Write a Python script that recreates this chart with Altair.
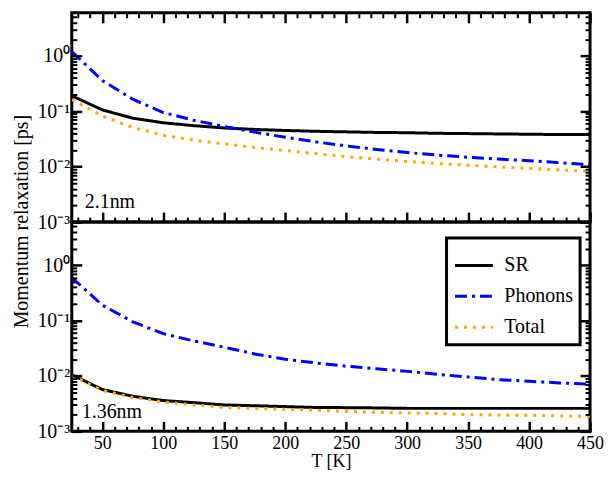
import altair as alt
import pandas as pd

# ---- data ----
T = [25, 50, 75, 100, 125, 150, 175, 200, 225, 250, 275, 300, 325, 350, 375, 400, 425, 450]

sr_21 = [0.19, 0.106, 0.075, 0.062, 0.055, 0.050, 0.047, 0.045, 0.0435, 0.0425, 0.0415, 0.041,
         0.040, 0.0395, 0.039, 0.0385, 0.038, 0.038]
ph_21 = [1.2, 0.36, 0.165, 0.095, 0.069, 0.053, 0.042, 0.034, 0.028, 0.0237, 0.0205, 0.018,
         0.0162, 0.0148, 0.0137, 0.0128, 0.0118, 0.0108]
tot_21 = [0.163, 0.082, 0.051, 0.037, 0.030, 0.0258, 0.0222, 0.0195, 0.0172, 0.0152, 0.0137, 0.0124,
          0.0114, 0.0106, 0.0099, 0.0093, 0.0087, 0.0083]

sr_136 = [0.0105, 0.0057, 0.0043, 0.0036, 0.0033, 0.0030, 0.0029, 0.0028, 0.0027, 0.00268, 0.00265,
          0.0026, 0.0026, 0.0026, 0.0026, 0.0026, 0.0026, 0.0026]
ph_136 = [0.6, 0.19, 0.095, 0.058, 0.043, 0.033, 0.025, 0.020, 0.0172, 0.015, 0.0135, 0.0121,
          0.0107, 0.0096, 0.0086, 0.0080, 0.0075, 0.0071]
tot_136 = [0.0102, 0.0055, 0.0041, 0.0034, 0.0030, 0.0027, 0.0026, 0.0025, 0.0024, 0.0023, 0.0022,
           0.00215, 0.0021, 0.0020, 0.00197, 0.00195, 0.0019, 0.00187]

SERIES = ["SR", "Phonons", "Total"]
COLORS = ["#000000", "#0000ff", "#ffa500"]
DASHES = [[1, 0], [12, 5, 3, 5], [3, 6]]

x_major = [50, 100, 150, 200, 250, 300, 350, 400, 450]
x_minor = [30, 40, 60, 70, 80, 90, 110, 120, 130, 140, 160, 170, 180, 190, 210, 220, 230, 240,
           260, 270, 280, 290, 310, 320, 330, 340, 360, 370, 380, 390, 410, 420, 430, 440]
y_major = [0.001, 0.01, 0.1, 1.0]
y_minor = [0.002, 0.003, 0.004, 0.005, 0.006, 0.007, 0.008, 0.009,
           0.02, 0.03, 0.04, 0.05, 0.06, 0.07, 0.08, 0.09,
           0.2, 0.3, 0.4, 0.5, 0.6, 0.7, 0.8, 0.9,
           2.0, 3.0, 4.0, 5.0]

FONT = "Liberation Serif"
W, H = 520, 210
XDOM = [25, 450]
YDOM = [0.001, 6]

YLABEL = ("datum.value > 0.5 ? '10⁰' : datum.value > 0.05 ? '10⁻¹' : "
          "datum.value > 0.005 ? '10⁻²' : '10⁻³'")


def long_df(sr, ph, tot):
    rows = []
    for name, vals in zip(SERIES, [sr, ph, tot]):
        for t, v in zip(T, vals):
            rows.append({"T": t, "value": v, "series": name})
    return pd.DataFrame(rows)


def ax(orient, values, size, width, labels=False, title=None, **kw):
    return alt.Axis(orient=orient, values=values, tickSize=size, offset=-size, domain=False,
                    grid=False, labels=labels, ticks=True, tickColor="black", tickWidth=width,
                    zindex=1, title=title, **kw)


def panel(df, label, bottom, label_xy):
    xs = alt.Scale(domain=XDOM, nice=False, zero=False)
    ys = alt.Scale(type="log", domain=YDOM, nice=False)

    if bottom:
        leg = alt.Legend(orient="none", legendX=376, legendY=16, title=None,
                         strokeColor="black", padding=7, symbolType="stroke",
                         symbolSize=1444, symbolStrokeWidth=3, labelFont=FONT,
                         labelFontSize=20, labelColor="black", rowPadding=-2, labelOffset=10)
    else:
        leg = None

    color = alt.Color("series:N", scale=alt.Scale(domain=SERIES, range=COLORS), legend=leg)
    dash = alt.StrokeDash("series:N", scale=alt.Scale(domain=SERIES, range=DASHES), legend=leg)

    xmain = ax("bottom", x_major, 10, 2.5, labels=bottom,
               title="T [K]" if bottom else None,
               labelFont=FONT, labelFontSize=18, labelColor="black", labelPadding=3,
               titleFont=FONT, titleFontSize=18, titleFontWeight="normal", titleColor="black",
               titlePadding=0, labelFlush=False)
    ymain = ax("left", y_major, 10, 2.5, labels=True, labelExpr=YLABEL,
               title="Momentum relaxation [ps]" if bottom else None,
               labelFont=FONT, labelFontSize=20, labelColor="black", labelPadding=2,
               titleFont=FONT, titleFontSize=20, titleFontWeight="normal", titleColor="black",
               titlePadding=5, titleY=-1, labelFlush=False)

    base = alt.Chart(df)
    lines = base.mark_line(strokeWidth=3, clip=True).encode(
        x=alt.X("T:Q", scale=xs, axis=xmain),
        y=alt.Y("value:Q", scale=ys, axis=ymain),
        color=color,
        strokeDash=dash,
        order=alt.Order("T:Q"),
    )
    top_major = base.mark_point(opacity=0).encode(
        x=alt.X("T:Q", scale=xs, axis=ax("top", x_major, 10, 2.5) if not bottom else None),
        y=alt.Y("value:Q", scale=ys, axis=ax("right", y_major, 10, 2.5)),
    )
    minor_a = base.mark_point(opacity=0).encode(
        x=alt.X("T:Q", scale=xs, axis=ax("bottom", x_minor, 5, 2)),
        y=alt.Y("value:Q", scale=ys, axis=ax("left", y_minor, 5, 2)),
    )
    minor_b = base.mark_point(opacity=0).encode(
        x=alt.X("T:Q", scale=xs, axis=ax("top", x_minor, 5, 2) if not bottom else None),
        y=alt.Y("value:Q", scale=ys, axis=ax("right", y_minor, 5, 2)),
    )
    txt = alt.Chart(pd.DataFrame({"label": [label]})).mark_text(
        align="left", baseline="alphabetic", font=FONT, fontSize=20, color="black"
    ).encode(x=alt.value(label_xy[0]), y=alt.value(label_xy[1]), text="label:N")

    return alt.layer(lines, top_major, minor_a, minor_b, txt).resolve_axis(
        x="independent", y="independent"
    ).properties(width=W, height=H)


top = panel(long_df(sr_21, ph_21, tot_21), "2.1nm", False, (13, 196))
bot = panel(long_df(sr_136, ph_136, tot_136), "1.36nm", True, (10, 197))

chart = alt.vconcat(top, bot, spacing=0, bounds="flush").resolve_scale(
    color="independent", strokeDash="independent"
).resolve_legend(color="independent", strokeDash="independent").properties(
    padding={"left": 2, "top": 1, "right": 0, "bottom": 0}
).configure_view(stroke="black", strokeWidth=3).configure_legend(strokeWidth=3)

chart.save("out.html", embed_options={"renderer": "svg", "actions": False})
